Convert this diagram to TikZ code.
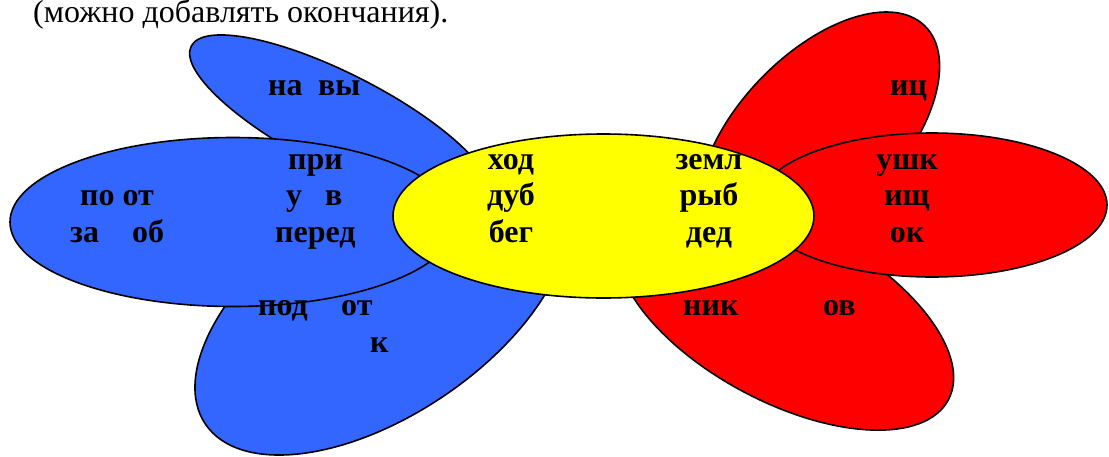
\documentclass[tikz,border=0pt]{standalone}
\usepackage{fontspec}
\setmainfont{Liberation Serif}
\definecolor{petalblue}{RGB}{51,102,255}
\definecolor{petalred}{RGB}{255,0,0}
\definecolor{petalyellow}{RGB}{255,255,0}
\tikzset{
  petal/.style={draw=black, line width=1.6pt},
  word/.style={inner sep=0pt, font=\bfseries\fontsize{32}{38}\selectfont},
  wordw/.style={word, anchor=base west},
  wordc/.style={word, anchor=base},
  caption/.style={inner sep=0pt, anchor=base west, font=\fontsize{32}{38}\selectfont}
}
\begin{document}
\begin{tikzpicture}[x=1pt,y=-1pt]
\useasboundingbox (0,0) rectangle (1109,456);
% heading (partly cut)
\node[caption] (head) at (33,22) {(можно добавлять окончания).};
% blue petals
\path[petal, fill=petalblue, rotate around={34:(382,305)}] (382,305) ellipse [x radius=213, y radius=110];
\path[petal, fill=petalblue, rotate around={-27:(340,122)}] (340,122) ellipse [x radius=167, y radius=48];
\path[petal, fill=petalblue] (233,222) ellipse [x radius=223, y radius=84.5];
% red petals
\path[petal, fill=petalred, rotate around={46:(819,135)}] (819,135) ellipse [x radius=152, y radius=81];
\path[petal, fill=petalred, rotate around={-28:(785,313)}] (785,313) ellipse [x radius=185, y radius=89];
\path[petal, fill=petalred] (932,205) ellipse [x radius=175, y radius=72];
% centre
\path[petal, fill=petalyellow] (603.5,216) ellipse [x radius=210.5, y radius=82];
% words
\node[wordw] (na) at (268,95) {на};
\node[wordw] (vy) at (318,95) {вы};
\node[wordw] (pri) at (288,169) {при};
\node[wordw] (poot) at (80,205) {по от};
\node[wordw] (u) at (286,205) {у};
\node[wordw] (v) at (325,205) {в};
\node[wordw] (za) at (70,242) {за};
\node[wordw] (ob) at (132,242) {об};
\node[wordw] (pered) at (275,242) {перед};
\node[wordw] (pod) at (258,315) {под};
\node[wordw] (ot) at (341,315) {от};
\node[wordw] (k) at (370,352) {к};
\node[wordc] (hod) at (511,169) {ход};
\node[wordc] (dub) at (511,205) {дуб};
\node[wordc] (beg) at (511,242) {бег};
\node[wordc] (zeml) at (709,169) {земл};
\node[wordc] (ryb) at (709,205) {рыб};
\node[wordc] (ded) at (709,242) {дед};
\node[wordc] (ushk) at (907,169) {ушк};
\node[wordc] (ishch) at (907,205) {ищ};
\node[wordc] (ok) at (907,242) {ок};
\node[wordw] (ic) at (890,95) {иц};
\node[wordw] (nik) at (683,315) {ник};
\node[wordw] (ov) at (823,315) {ов};
\end{tikzpicture}
\end{document}
